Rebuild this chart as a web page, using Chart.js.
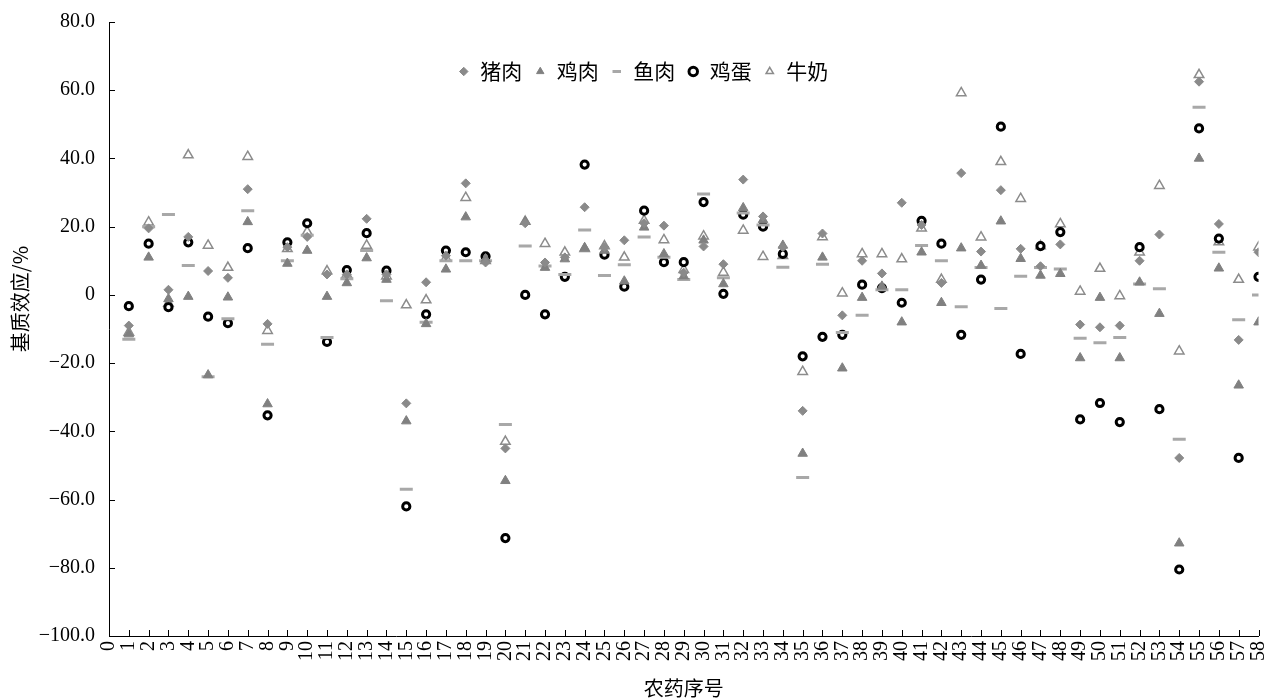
<!DOCTYPE html>
<html><head><meta charset="utf-8">
<script src="https://cdn.jsdelivr.net/npm/chart.js@4.4.0/dist/chart.umd.min.js"></script>
<style>html,body{margin:0;padding:0;background:#fff}#wrap{width:1268px;height:700px;position:relative}</style>
</head><body><div id="wrap"><canvas id="c" width="1268" height="700"></canvas></div>
<script>
const categories = [1,2,3,4,5,6,7,8,9,10,11,12,13,14,15,16,17,18,19,20,21,22,23,24,25,26,27,28,29,30,31,32,33,34,35,36,37,38,39,40,41,42,43,44,45,46,47,48,49,50,51,52,53,54,55,56,57,58];
const seriesNames = ['猪肉','鸡肉','鱼肉','鸡蛋','牛奶'];
const pork = [-9,19.5,1.5,17,7,5,31,-8.5,14,17,6,6,22.3,6,-31.8,3.7,11.5,32.7,9.5,-45,21,9.5,11,25.7,14,16,21,20.3,6.5,14.2,9,33.8,23,14,-34,18,-6,10,6.3,27,20.5,3.5,35.7,12.7,30.7,13.5,8.4,14.8,-8.7,-9.5,-9,10,17.7,-47.8,62.5,20.8,-13.2,12.5];
const chicken = [-11.5,11,-1.2,-0.5,-23.5,-0.7,21.4,-32,9.2,13,-0.5,3.5,10.8,4.5,-37,-8.5,7.5,22.8,10.5,-54.5,21.5,8,10.5,13.8,13,4,19.8,12,5.5,16,3.2,25.5,22,14.5,-46.5,11,-21.5,-0.8,2.5,-8,12.5,-2.3,13.7,8.6,21.6,10.6,5.7,6.2,-18.5,-0.8,-18.5,3.7,-5.5,-72.8,40,7.8,-26.5,-8];
const fish = [-13,20,23.6,8.6,-24,-7,24.7,-14.5,10,17.5,-12.5,4.7,13,-1.7,-57,-8,10,10,10,-38,14.3,8.5,6,19,5.7,8.8,17,11,4.5,29.6,5,24,20.5,8.1,-53.5,9,-11,-6,1.5,1.5,14.5,10,-3.5,8,-4,5.5,8,7.6,-12.7,-14,-12.5,3.2,1.8,-42.3,55,12.5,-7.3,0];
const egg = [-3.3,15,-3.6,15.4,-6.4,-8.3,13.7,-35.3,15.4,21,-13.8,7.3,18.1,7.1,-62,-5.7,13,12.5,11.3,-71.3,0,-5.7,5.3,38.2,11.8,2.4,24.7,9.6,9.6,27.2,0.3,23.5,20,12,-18,-12.3,-11.7,3,2,-2.3,21.7,15,-11.7,4.5,49.3,-17.3,14.3,18.4,-36.5,-31.7,-37.3,14,-33.5,-80.5,48.8,16.5,-47.8,5.3];
const milk = [-11,21.3,-2.5,41,14.5,8,40.5,-10.5,13.5,18.5,7,6,14.5,5.5,-3,-1.5,10.8,28.5,10,-43,21.5,15,12.5,13.5,14.3,11,21.8,16.1,7.4,17.2,6.6,18.9,11.2,11.5,-22.5,17,0.5,12,12,10.5,19.5,4.5,59.2,16.9,39,28.2,14.3,20.8,1,7.7,-0.3,12.5,32,-16.5,64.5,15.5,4.5,14];
const yTickValues = [-100,-80,-60,-40,-20,0,20,40,60,80];
const xTitle = '农药序号';
const yTitle = '\u3000\u3000\u3000基质效应/%';

function pts(arr){ return categories.map((c,i)=>({x:c,y:arr[i]})); }
function fmtY(v){ if (v===0) return '0'; return (v<0?'\u2212':'') + Math.abs(v).toFixed(1); }

const serif = "'Liberation Serif','Times New Roman',serif";
const cjk = "'Noto Sans CJK SC','Noto Sans',sans-serif";

const innerTicks = {
  id:'innerTicks',
  afterDatasetsDraw(chart){
    const {ctx, chartArea:a} = chart; const x = chart.scales.x, y = chart.scales.y;
    ctx.save(); ctx.strokeStyle='#000'; ctx.lineWidth=1; ctx.beginPath();
    x.ticks.forEach((t,i)=>{ const px=Math.round(x.getPixelForTick(i))+0.5; ctx.moveTo(px,a.bottom); ctx.lineTo(px,a.bottom-6); });
    y.ticks.forEach((t,i)=>{ const py=Math.round(y.getPixelForTick(i))+0.5; ctx.moveTo(a.left,py); ctx.lineTo(a.left+6,py); });
    ctx.stroke(); ctx.restore();
  }
};
const LEG_CENTER_X = 643, LEG_TOP = 49;
const legendPlace = {
  id:'legendPlace',
  beforeLayout(chart){
    const l = chart.legend;
    if (l && !l._patched){
      const f = l.fit.bind(l);
      l.fit = function(){ f(); this._realH = this.height; this.height = 0; };
      l._patched = true;
    }
  },
  afterLayout(chart){
    const l = chart.legend; if(!l) return;
    const w = 900;
    l.left = LEG_CENTER_X - w/2; l.right = LEG_CENTER_X + w/2; l.width = w;
    const h = l._realH || 40;
    l.top = LEG_TOP; l.bottom = l.top + h; l.height = h;
  }
};

new Chart(document.getElementById('c'), {
  type:'scatter',
  data:{ datasets:[
    {label:seriesNames[0], data:pts(pork), pointStyle:'rectRot', radius:4.5, backgroundColor:'#8a8a8a', borderColor:'#8a8a8a', borderWidth:1},
    {label:seriesNames[1], data:pts(chicken), pointStyle:'triangle', radius:5.5, backgroundColor:'#808080', borderColor:'#808080', borderWidth:1},
    {label:seriesNames[2], data:pts(fish), pointStyle:'line', radius:6.5, backgroundColor:'#a8a8a8', borderColor:'#a8a8a8', borderWidth:3},
    {label:seriesNames[3], data:pts(egg), pointStyle:'circle', radius:3.6, backgroundColor:'#fff', borderColor:'#000', borderWidth:3},
    {label:seriesNames[4], data:pts(milk), pointStyle:'triangle', radius:5.5, backgroundColor:'#fff', borderColor:'#8c8c8c', borderWidth:1.5}
  ]},
  options:{
    responsive:false, animation:false, devicePixelRatio:1,
    layout:{padding:{left:0,right:9,top:22,bottom:0}},
    plugins:{
      tooltip:{enabled:false},
      legend:{position:'top', align:'center',
        labels:{usePointStyle:true, boxWidth:12, boxHeight:6, padding:12, color:'#000', font:{family:cjk, size:21}}}
    },
    scales:{
      x:{type:'linear', min:0, max:58, position:'bottom',
        afterFit(s){ s.height = 64; s.paddingLeft = 0; s.paddingRight = 0; },
        grid:{display:false, drawTicks:false, tickLength:0},
        border:{display:true, color:'#000', width:1},
        ticks:{stepSize:1, autoSkip:false, maxRotation:90, minRotation:90, padding:5, color:'#000', font:{family:serif, size:20}, callback:(v)=>String(v)},
        title:{display:true, text:xTitle, color:'#000', font:{family:cjk, size:20}, padding:{top:0,bottom:0}}
      },
      y:{type:'linear', min:-100, max:80, position:'left',
        afterFit(s){ s.width = 109; s.paddingTop = 0; s.paddingBottom = 0; },
        afterBuildTicks(s){ s.ticks = yTickValues.map(v=>({value:v})); },
        grid:{display:false, drawTicks:false, tickLength:0},
        border:{display:true, color:'#000', width:1},
        ticks:{padding:14, color:'#000', font:{family:serif, size:20}, callback:(v)=>fmtY(v)},
        title:{display:true, text:yTitle, color:'#000', font:{family:cjk, size:20}, padding:{top:8,bottom:0}}
      }
    }
  },
  plugins:[innerTicks, legendPlace]
});
</script></body></html>
